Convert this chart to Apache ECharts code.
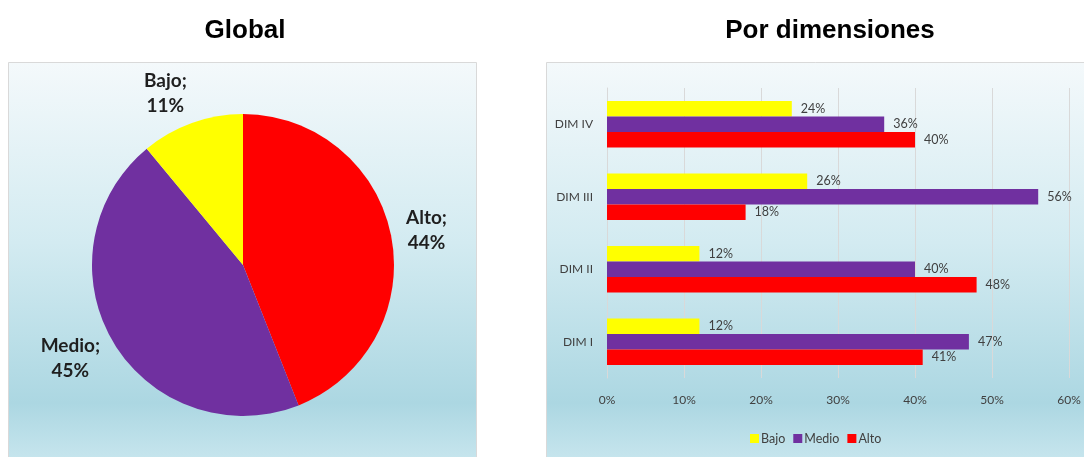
<!DOCTYPE html>
<html>
<head>
<meta charset="utf-8">
<script src="https://cdn.jsdelivr.net/npm/echarts@6/dist/echarts.min.js"></script>
<style>
  html, body { margin: 0; padding: 0; background: #ffffff; }
  #chart { width: 1084px; height: 457px; }
</style>
</head>
<body>
<div id="chart"></div>
<script>
// Global distribution of levels
const levelNames = ['Alto', 'Medio', 'Bajo'];
const globalValues = [44, 45, 11];

// Distribution by dimension (percent)
const dimensions = ['DIM I', 'DIM II', 'DIM III', 'DIM IV'];
const bajoValues = [12, 12, 26, 24];
const medioValues = [47, 40, 56, 36];
const altoValues = [41, 48, 18, 40];
const xTicks = [0, 10, 20, 30, 40, 50, 60];

const levelColors = { Alto: '#FF0000', Medio: '#7030A0', Bajo: '#FFFF00' };

const pieCenter = [243, 265];
const pieRadius = 151;
const labelGap = 15;
const pieLabelFont = 'bold 19px Lato';
const pieLabelLineHeight = 25;

const panelFill = {
  type: 'linear', x: 0, y: 0, x2: 0, y2: 1,
  colorStops: [
    { offset: 0, color: '#f4f9fb' },
    { offset: 0.45, color: '#d3ebf1' },
    { offset: 0.85, color: '#acd7e2' },
    { offset: 1, color: '#c8e6ee' }
  ]
};

const total = globalValues.reduce((a, b) => a + b, 0);
function midDirection(i) {
  let cum = 0;
  for (let k = 0; k < i; k++) cum += globalValues[k];
  const frac = (cum + globalValues[i] / 2) / total;
  const ang = (90 - 360 * frac) * Math.PI / 180;
  return [Math.cos(ang), -Math.sin(ang)];
}

// Size of a two-line pie label, measured with the same font
const measureCtx = document.createElement('canvas').getContext('2d');
function pieLabelSize(i) {
  measureCtx.font = pieLabelFont;
  const lines = [levelNames[i] + ';', globalValues[i] + '%'];
  const w = Math.max.apply(null, lines.map(s => measureCtx.measureText(s).width));
  return [w, lines.length * pieLabelLineHeight];
}

function barSeries(name, values) {
  return {
    name: name,
    type: 'bar',
    xAxisIndex: 0,
    yAxisIndex: 0,
    data: values,
    barGap: '0%',
    barCategoryGap: '36%',
    itemStyle: { color: levelColors[name] },
    label: {
      show: true,
      position: 'right',
      distance: 9,
      formatter: '{c}%',
      fontFamily: 'Lato',
      fontSize: 12.5,
      color: '#404040'
    }
  };
}

const chart = echarts.init(document.getElementById('chart'), null, { renderer: 'canvas' });

chart.setOption({
  animation: false,
  title: [
    {
      text: 'Global', left: 240, top: 13, textAlign: 'center',
      textStyle: { fontFamily: 'Liberation Sans', fontWeight: 'bold', fontSize: 26, color: '#000' }
    },
    {
      text: 'Por dimensiones', left: 825, top: 13, textAlign: 'center',
      textStyle: { fontFamily: 'Liberation Sans', fontWeight: 'bold', fontSize: 26, color: '#000' }
    }
  ],
  graphic: [
    {
      type: 'rect', z: -10, silent: true,
      shape: { x: 8.5, y: 62.5, width: 468, height: 400 },
      style: { fill: panelFill, stroke: '#d9d9d9', lineWidth: 1 }
    },
    {
      type: 'rect', z: -10, silent: true,
      shape: { x: 546.5, y: 62.5, width: 545, height: 400 },
      style: { fill: panelFill, stroke: '#d9d9d9', lineWidth: 1 }
    }
  ],
  legend: {
    data: ['Bajo', 'Medio', 'Alto'],
    left: 745,
    top: 427,
    icon: 'rect',
    itemWidth: 9,
    itemHeight: 9,
    itemGap: 8,
    textStyle: { fontFamily: 'Lato', fontSize: 12.5, color: '#404040', padding: [0, 0, 0, -3] }
  },
  grid: { left: 607, right: 15, top: 88, bottom: 79 },
  xAxis: {
    type: 'value',
    min: xTicks[0],
    max: xTicks[xTicks.length - 1],
    interval: 10,
    axisLine: { show: false },
    axisTick: { show: false },
    splitLine: { show: true, lineStyle: { color: '#d9d9d9', width: 1 } },
    axisLabel: {
      formatter: '{value}%',
      margin: 16,
      fontFamily: 'Lato',
      fontSize: 12,
      color: '#404040'
    }
  },
  yAxis: {
    type: 'category',
    data: dimensions,
    axisLine: { show: true, lineStyle: { color: '#d9d9d9', width: 1 } },
    axisTick: { show: false },
    axisLabel: { margin: 14, fontFamily: 'Lato', fontSize: 12, color: '#404040' }
  },
  series: [
    barSeries('Bajo', bajoValues),
    barSeries('Medio', medioValues),
    barSeries('Alto', altoValues),
    {
      name: 'Global',
      type: 'pie',
      center: pieCenter,
      radius: pieRadius,
      startAngle: 90,
      clockwise: true,
      legendHoverLink: false,
      data: levelNames.map((n, i) => ({
        name: n, value: globalValues[i], itemStyle: { color: levelColors[n] }
      })),
      label: {
        show: true,
        position: 'outside',
        overflow: 'none',
        width: 120,
        formatter: '{b};\n{c}%',
        fontFamily: 'Lato',
        fontWeight: 'bold',
        fontSize: 19,
        lineHeight: pieLabelLineHeight,
        color: '#1f1f1f',
        align: 'center'
      },
      labelLine: { show: false },
      labelLayout: function (params) {
        const d = midDirection(params.dataIndex);
        const size = pieLabelSize(params.dataIndex);
        const r = pieRadius + labelGap;
        return {
          x: pieCenter[0] + d[0] * r + Math.sign(d[0]) * size[0] / 2,
          y: pieCenter[1] + d[1] * r + d[1] * size[1] / 3,
          align: 'center',
          verticalAlign: 'middle'
        };
      }
    }
  ]
});
</script>
</body>
</html>
